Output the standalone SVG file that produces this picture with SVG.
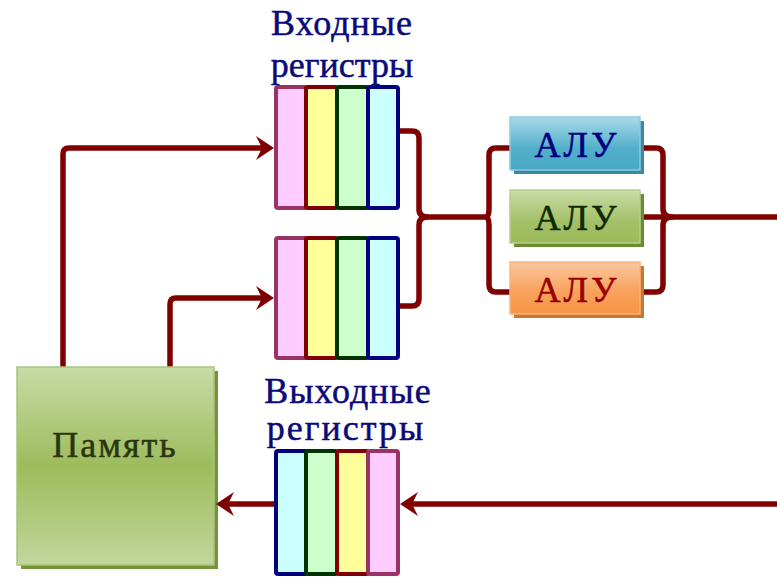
<svg xmlns="http://www.w3.org/2000/svg" width="777" height="577" viewBox="0 0 777 577">
  <style>
    .lbl { font-family: "Liberation Serif", "Times New Roman", serif; font-size: 36px; text-anchor: middle; stroke-width: 0.5; }
    .cap { fill: #0a0a78; stroke: #0a0a78; }
    .wire { fill: none; stroke: #800000; stroke-width: 5.5; stroke-linejoin: round; }
    .cell { stroke-width: 4; }
    .pink { fill: #ffccff; stroke: #993366; }
    .yellow { fill: #ffff99; stroke: #800000; }
    .green { fill: #ccffcc; stroke: #003300; }
    .cyan { fill: #ccffff; stroke: #000080; }
  </style>
  <defs>
    <marker id="arrow" viewBox="-19 -13 20 26" refX="-8" refY="0" markerWidth="20" markerHeight="26" markerUnits="userSpaceOnUse" orient="auto">
      <path d="M0,0 L-18,-12 L-12,0 L-18,12 Z" fill="#800000"/>
    </marker>
    <linearGradient id="gMem" x1="0" y1="0" x2="0" y2="1">
      <stop offset="0" stop-color="#c8dba5"/>
      <stop offset="0.5" stop-color="#9dbc5c"/>
      <stop offset="1" stop-color="#c2d69c"/>
    </linearGradient>
    <linearGradient id="gBlue" x1="0" y1="0" x2="0" y2="1">
      <stop offset="0" stop-color="#a9d9ea"/>
      <stop offset="0.6" stop-color="#52afcb"/>
      <stop offset="1" stop-color="#4aa8c6"/>
    </linearGradient>
    <linearGradient id="gGreen" x1="0" y1="0" x2="0" y2="1">
      <stop offset="0" stop-color="#c9dca6"/>
      <stop offset="0.6" stop-color="#a2c067"/>
      <stop offset="1" stop-color="#9bbb59"/>
    </linearGradient>
    <linearGradient id="gOrange" x1="0" y1="0" x2="0" y2="1">
      <stop offset="0" stop-color="#fbc79f"/>
      <stop offset="0.6" stop-color="#f8a05a"/>
      <stop offset="1" stop-color="#f79646"/>
    </linearGradient>
  </defs>

  <rect width="777" height="577" fill="#ffffff"/>

  <!-- connectors -->
  <g id="connectors">
    <path class="wire" d="M63,367 V154 Q63,148 69,148 H266" marker-end="url(#arrow)"/>
    <path class="wire" d="M170,367 V304 Q170,298 176,298 H266" marker-end="url(#arrow)"/>
    <path class="wire" d="M398,131 H412 Q419,131 419,138 V209 Q419,217 428,217"/>
    <path class="wire" d="M398,306 H412 Q419,306 419,299 V225 Q419,217 428,217"/>
    <path class="wire" d="M428,217 H485"/>
    <path class="wire" d="M485,217 Q489,217 489,209 V155 Q489,148 496,148 H511"/>
    <path class="wire" d="M485,217 Q489,217 489,225 V285 Q489,292 496,292 H511"/>
    <path class="wire" d="M640,148 H656 Q663,148 663,155 V209 Q663,217 673,217"/>
    <path class="wire" d="M640,292 H656 Q663,292 663,285 V225 Q663,217 673,217"/>
    <path class="wire" d="M640,217 H777"/>
  </g>

  <!-- memory block -->
  <g id="memory">
    <rect x="21" y="371" width="197" height="198" fill="#77933c"/>
    <rect x="17" y="367" width="197" height="198" fill="url(#gMem)" stroke="#a9c47e" stroke-width="1.5"/>
    <text class="lbl" x="115" y="457" font-size="40" letter-spacing="2" fill="#2b3510" stroke="#2b3510">Память</text>
  </g>

  <!-- input register 1 -->
  <g id="in-reg-1">
    <rect class="cell pink" x="276" y="87" width="31" height="121" rx="2"/>
    <rect class="cell yellow" x="306" y="87" width="31" height="121" rx="2"/>
    <rect class="cell green" x="337" y="87" width="31" height="121" rx="2"/>
    <rect class="cell cyan" x="368" y="87" width="30" height="121" rx="2"/>
  </g>

  <!-- input register 2 -->
  <g id="in-reg-2">
    <rect class="cell pink" x="276" y="238" width="31" height="120" rx="2"/>
    <rect class="cell yellow" x="306" y="238" width="31" height="120" rx="2"/>
    <rect class="cell green" x="337" y="238" width="31" height="120" rx="2"/>
    <rect class="cell cyan" x="368" y="238" width="30" height="120" rx="2"/>
  </g>

  <!-- output register -->
  <g id="out-reg">
    <rect class="cell cyan" x="276" y="451" width="31" height="123" rx="2"/>
    <rect class="cell green" x="306" y="451" width="31" height="123" rx="2"/>
    <rect class="cell yellow" x="337" y="451" width="31" height="123" rx="2"/>
    <rect class="cell pink" x="368" y="451" width="30" height="123" rx="2"/>
  </g>

  <!-- arrows into the output register and into memory -->
  <g id="connectors-out">
    <path class="wire" d="M777,504 H408" marker-end="url(#arrow)"/>
    <path class="wire" d="M274,504 H224" marker-end="url(#arrow)"/>
  </g>

  <!-- register captions -->
  <g id="in-caption">
    <text class="lbl cap" x="342" y="35" font-size="40" letter-spacing="1">Входные</text>
    <text class="lbl cap" x="342" y="77" font-size="40" letter-spacing="0">регистры</text>
  </g>
  <g id="out-caption">
    <text class="lbl cap" x="348" y="403" font-size="37" letter-spacing="1">Выходные</text>
    <text class="lbl cap" x="346" y="440" font-size="37" letter-spacing="2">регистры</text>
  </g>

  <!-- ALUs -->
  <g id="alu-1">
    <rect x="514" y="121" width="130" height="53" fill="#3b88a0"/>
    <rect x="510" y="117" width="130" height="53" fill="url(#gBlue)" stroke="#8ccbe0" stroke-width="1.5"/>
    <text class="lbl" x="577" y="157" font-size="39" letter-spacing="3" fill="#000080" stroke="#000080">АЛУ</text>
  </g>
  <g id="alu-2">
    <rect x="514" y="194" width="130" height="53" fill="#6b8a34"/>
    <rect x="510" y="190" width="130" height="53" fill="url(#gGreen)" stroke="#b5cf88" stroke-width="1.5"/>
    <text class="lbl" x="577" y="230" font-size="39" letter-spacing="3" fill="#0f2a00" stroke="#0f2a00">АЛУ</text>
  </g>
  <g id="alu-3">
    <rect x="514" y="266" width="130" height="52" fill="#c9772f"/>
    <rect x="510" y="262" width="130" height="52" fill="url(#gOrange)" stroke="#f9b47e" stroke-width="1.5"/>
    <text class="lbl" x="577" y="302" font-size="39" letter-spacing="3" fill="#990000" stroke="#990000">АЛУ</text>
  </g>
</svg>
